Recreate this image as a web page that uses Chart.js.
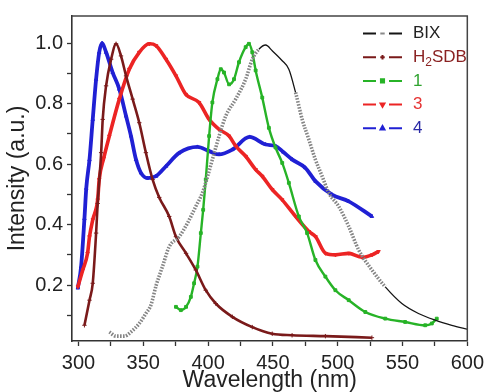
<!DOCTYPE html>
<html>
<head>
<meta charset="utf-8">
<script src="https://cdn.jsdelivr.net/npm/chart.js@4.4.1/dist/chart.umd.min.js"></script>
<style>
  html, body { margin: 0; padding: 0; background: #fff; }
  #wrap { width: 489px; height: 392px; }
</style>
</head>
<body>
<div id="wrap"><canvas id="spectra" width="489" height="392"></canvas></div>
<script>
// emission spectra (wavelength in nm, normalised intensity)
const seriesNames = ['BIX', 'H₂SDB', '1', '3', '4'];

const bixWl  = [323.8, 329, 335.4, 340.5, 346.9, 352, 355.9, 360, 364.8, 370, 377.7, 384.1, 390.5, 395.6, 403.3, 408.5, 413.6, 421.3, 429, 434.1, 439.2, 444.4, 449.5, 457.2, 462.3, 467.5, 472.6, 477.7, 482.8, 488, 493.1, 500.8, 508.5, 516.2, 526.4, 536.7, 549.5, 562.3, 575.2, 588, 600.8];
const bixInt = [0.045, 0.031, 0.031, 0.045, 0.073, 0.106, 0.134, 0.2, 0.261, 0.327, 0.36, 0.405, 0.46, 0.505, 0.615, 0.693, 0.759, 0.815, 0.881, 0.947, 0.98, 0.994, 0.975, 0.942, 0.914, 0.837, 0.748, 0.682, 0.615, 0.56, 0.505, 0.46, 0.394, 0.316, 0.25, 0.194, 0.139, 0.106, 0.084, 0.067, 0.053];

const h2sdbWl  = [304.6, 308.5, 311, 313.6, 314.8, 317.5, 318.7, 321.3, 325.2, 329, 332.8, 336.7, 341.8, 346.9, 352, 357.2, 362.3, 370, 375.2, 383, 390.5, 398.2, 405.9, 418.7, 434.1, 449.5, 464.8, 490.5, 526.4];
const h2sdbInt = [0.067, 0.15, 0.206, 0.372, 0.47, 0.638, 0.748, 0.859, 0.947, 0.998, 0.958, 0.892, 0.815, 0.737, 0.638, 0.549, 0.49, 0.427, 0.36, 0.305, 0.25, 0.183, 0.139, 0.095, 0.061, 0.039, 0.034, 0.031, 0.026];

const c1Wl  = [375.2, 379, 383, 386.7, 389.2, 391.8, 394.4, 396.2, 398.2, 400.8, 403.3, 407.2, 409.8, 412.3, 416.2, 420, 423.8, 429, 431.5, 434.1, 436.7, 441.8, 446.9, 452, 457.2, 462.3, 470, 476.4, 482.8, 490.5, 498.2, 508.5, 521.3, 536.7, 552, 567.5, 572.6, 576.4];
const c1Int = [0.128, 0.117, 0.128, 0.161, 0.206, 0.261, 0.372, 0.449, 0.549, 0.693, 0.804, 0.881, 0.914, 0.903, 0.864, 0.881, 0.937, 0.987, 0.998, 0.97, 0.91, 0.82, 0.72, 0.655, 0.604, 0.538, 0.427, 0.372, 0.283, 0.228, 0.183, 0.15, 0.111, 0.089, 0.078, 0.067, 0.073, 0.089];

const c3Wl  = [299.5, 303.3, 307, 308.5, 311, 314.8, 316, 319.5, 323.8, 331.5, 339.2, 346.9, 354.6, 359.8, 367.5, 375.2, 382.8, 393, 400.8, 408.5, 416.2, 421.3, 429, 436.7, 441.8, 449.5, 457.2, 467.5, 477.8, 482.9, 490.6, 498.3, 508.6, 518.8, 526.5, 531.5];
const c3Int = [0.194, 0.25, 0.305, 0.36, 0.416, 0.482, 0.549, 0.62, 0.693, 0.815, 0.914, 0.97, 0.998, 0.992, 0.947, 0.892, 0.831, 0.804, 0.748, 0.715, 0.693, 0.66, 0.626, 0.582, 0.56, 0.516, 0.482, 0.427, 0.377, 0.36, 0.305, 0.3, 0.305, 0.292, 0.3, 0.311];

const c4Wl  = [299.5, 302, 304.6, 306, 308.5, 311, 313.6, 316, 318.2, 321.3, 326.4, 331.5, 336.7, 340.5, 344.4, 348.2, 353.3, 359.8, 367.5, 377.7, 391.8, 400.8, 408.5, 418.7, 432, 444.4, 452, 458, 465, 475, 483, 495.6, 508.5, 526.4];
const c4Int = [0.19, 0.26, 0.42, 0.52, 0.615, 0.748, 0.881, 0.97, 1.0, 0.97, 0.903, 0.848, 0.759, 0.693, 0.615, 0.571, 0.554, 0.56, 0.593, 0.637, 0.657, 0.643, 0.632, 0.648, 0.69, 0.665, 0.66, 0.64, 0.615, 0.588, 0.543, 0.499, 0.477, 0.427];

const xTicks = [300, 325, 350, 375, 400, 425, 450, 475, 500, 525, 550, 575, 600];
const xTickLabels = ['300', '', '350', '', '400', '', '450', '', '500', '', '550', '', '600'];
const yTicks = [0.1, 0.2, 0.3, 0.4, 0.5, 0.6, 0.7, 0.8, 0.9, 1.0];
const yTickLabels = ['', '0.2', '', '0.4', '', '0.6', '', '0.8', '', '1.0'];

const lineColors = ['#151515', '#7a1a1a', '#27b327', '#ec2424', '#2020d4'];
const pointColors = ['#8a8a8a', '#7a1a1a', '#27b327', '#ec2424', '#2020d4'];
const textColors = ['#222222', '#8a2222', '#2fa32f', '#e53434', '#2a2aa6'];

const pts = (wl, val) => wl.map((x, i) => ({ x: x, y: val[i] }));

const axisFont = 'Liberation Sans, Arial, sans-serif';

// legend drawn inside the plot, top right
const insideLegend = {
  id: 'insideLegend',
  afterDraw(chart) {
    const ctx = chart.ctx;
    const x0 = 363, x1 = 402, textX = 413, top = 33.5, gap = 23.7;
    ctx.save();
    chart.data.datasets.forEach((ds, i) => {
      const y = top + i * gap;
      ctx.strokeStyle = lineColors[i];
      ctx.lineWidth = 2;
      ctx.setLineDash([]);
      ctx.beginPath();
      ctx.moveTo(x0, y); ctx.lineTo(x0 + 13, y);
      ctx.moveTo(x1 - 13, y); ctx.lineTo(x1, y);
      ctx.stroke();
      ctx.fillStyle = pointColors[i];
      ctx.strokeStyle = pointColors[i];
      Chart.helpers.drawPoint(ctx, {
        pointStyle: i === 0 ? 'line' : ds.pointStyle, rotation: ds.pointRotation || 0,
        radius: 2.2, borderWidth: 1
      }, (x0 + x1) / 2, y);

      ctx.fillStyle = textColors[i];
      ctx.textBaseline = 'middle';
      ctx.textAlign = 'left';
      const big = '17px "Liberation Sans Narrow", "Liberation Sans", sans-serif';
      const small = '12px "Liberation Sans Narrow", "Liberation Sans", sans-serif';
      const parts = ds.label.split('₂');
      if (parts.length === 2) {
        ctx.font = big;
        ctx.fillText(parts[0], textX, y);
        let w = ctx.measureText(parts[0]).width;
        ctx.font = small;
        ctx.fillText('2', textX + w, y + 5);
        w += ctx.measureText('2').width;
        ctx.font = big;
        ctx.fillText(parts[1], textX + w, y);
      } else {
        ctx.font = big;
        ctx.fillText(ds.label, textX, y);
      }
    });
    ctx.restore();
  }
};

// top and right frame lines
const frame = {
  id: 'frame',
  afterDraw(chart) {
    const a = chart.chartArea, ctx = chart.ctx;
    ctx.save();
    ctx.strokeStyle = '#444';
    ctx.lineWidth = 1.5;
    ctx.beginPath();
    ctx.moveTo(a.left, a.top);
    ctx.lineTo(a.right, a.top);
    ctx.lineTo(a.right, a.bottom);
    ctx.stroke();
    ctx.restore();
  }
};

const mk = (i, wl, val, style, extra) => Object.assign({
  label: seriesNames[i],
  data: pts(wl, val),
  borderColor: lineColors[i],
  backgroundColor: lineColors[i],
  pointBackgroundColor: pointColors[i],
  pointBorderColor: pointColors[i],
  pointStyle: style,
  pointRadius: 2,
  pointBorderWidth: 1,
  borderWidth: 2.5,
  cubicInterpolationMode: 'monotone'
}, extra || {});

// BIX: dense grey markers on the flanks, plain black line near the top and in the tail
const bixGrey = ctx => {
  const x = ctx.p0.parsed.x;
  return x < 437 || (x > 465 && x < 530);
};

const spectraChart = new Chart(document.getElementById('spectra'), {
  type: 'line',
  data: {
    datasets: [
      mk(0, bixWl, bixInt, 'line', {
        borderWidth: 1.3, pointRadius: 0,
        segment: {
          borderColor: ctx => bixGrey(ctx) ? '#858585' : '#151515',
          borderDash: ctx => bixGrey(ctx) ? [1.6, 1.4] : undefined,
          borderWidth: ctx => bixGrey(ctx) ? 3.6 : 1.3
        }
      }),
      mk(1, h2sdbWl, h2sdbInt, 'cross', { borderWidth: 2.6, pointRadius: 2.2 }),
      mk(2, c1Wl, c1Int, 'rect', { borderWidth: 2.4 }),
      mk(3, c3Wl, c3Int, 'triangle', { pointRotation: 180, borderWidth: 3.6 }),
      mk(4, c4Wl, c4Int, 'triangle', { borderWidth: 3.8 })
    ]
  },
  options: {
    responsive: false,
    animation: false,
    layout: { padding: { left: 0, right: 19, top: 16, bottom: 0 } },
    plugins: { legend: { display: false }, tooltip: { enabled: false } },
    scales: {
      x: {
        type: 'linear', min: 295, max: 600,
        afterBuildTicks: s => { s.ticks = xTicks.map(v => ({ value: v })); },
        afterFit: s => { s.height = 51; },
        ticks: {
          autoSkip: false, maxRotation: 0, padding: 5, color: '#222',
          font: { family: axisFont, size: 20 },
          callback: (v, i) => xTickLabels[i]
        },
        grid: { drawOnChartArea: false, tickLength: 5, tickColor: '#333', tickWidth: 1.3 },
        border: { color: '#333', width: 1.6 },
        title: {
          display: true, text: 'Wavelength (nm)', color: '#222',
          font: { family: axisFont, size: 23, lineHeight: 1 },
          padding: { top: 0, bottom: 0 }
        }
      },
      y: {
        min: 0.015, max: 1.09,
        afterBuildTicks: s => { s.ticks = yTicks.map(v => ({ value: v })); },
        afterFit: s => { s.width = 72; },
        ticks: {
          autoSkip: false, padding: 4, color: '#222',
          font: { family: axisFont, size: 20 },
          callback: (v, i) => yTickLabels[i]
        },
        grid: { drawOnChartArea: false, tickLength: 5, tickColor: '#333', tickWidth: 1.3 },
        border: { color: '#333', width: 1.6 },
        title: {
          display: true, text: 'Intensity (a.u.)', color: '#222',
          font: { family: axisFont, size: 23, lineHeight: 1 },
          padding: { top: 6, bottom: 0 }
        }
      }
    }
  },
  plugins: [insideLegend, frame]
});
</script>
</body>
</html>
